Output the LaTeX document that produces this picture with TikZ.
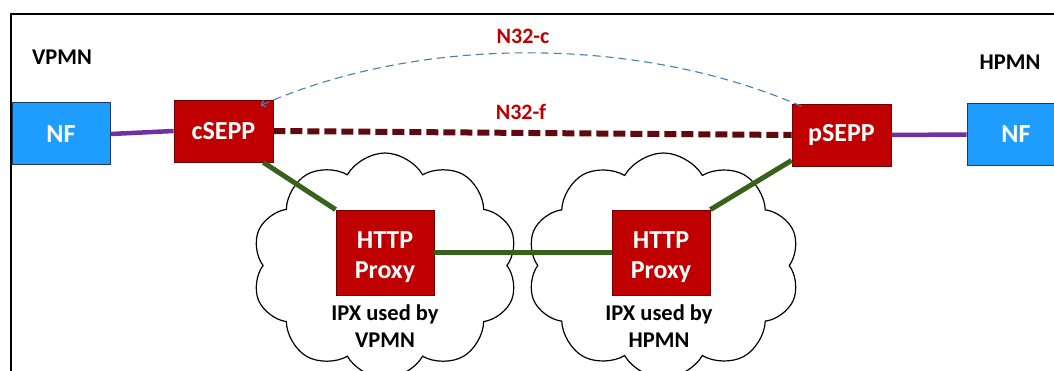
\documentclass[tikz,border=0pt]{standalone}
\usepackage{fontspec}
\setmainfont{Carlito}
\usetikzlibrary{shapes.symbols,arrows.meta,calc}
\definecolor{boxred}{RGB}{192,0,0}
\definecolor{boxredline}{RGB}{110,0,0}
\definecolor{nfblue}{RGB}{31,157,255}
\definecolor{nfline}{RGB}{31,56,100}
\definecolor{purp}{RGB}{112,48,160}
\definecolor{grn}{RGB}{56,98,28}
\definecolor{maroonline}{RGB}{94,10,14}
\definecolor{steel}{RGB}{74,126,177}
\definecolor{lblred}{RGB}{192,0,0}
\begin{document}
\begin{tikzpicture}[x=1pt,y=-1pt,
  redbox/.style={draw=boxredline, line width=0.8pt, fill=boxred, text=white,
    font=\bfseries\fontsize{26}{30}\selectfont, minimum width=99pt,
    minimum height=62pt, inner sep=0pt, align=center},
  proxybox/.style={redbox, minimum width=98pt, minimum height=85pt},
  bluebox/.style={draw=nfline, line width=1pt, fill=nfblue, text=white,
    font=\bfseries\fontsize{26}{30}\selectfont, minimum width=98pt,
    minimum height=62pt, inner sep=0pt},
  cloudshape/.style={cloud, draw=black, line width=1.2pt, cloud puffs=10,
    cloud puff arc=120, cloud ignores aspect, minimum width=#1, minimum height=225pt},
  netlabel/.style={font=\bfseries\fontsize{22.5}{26}\selectfont, text=black, inner sep=0pt},
  ifacelabel/.style={font=\bfseries\fontsize{22}{26}\selectfont, text=lblred, inner sep=0pt},
  ipxlabel/.style={font=\bfseries\fontsize{22.5}{27}\selectfont, text=black, inner sep=0pt, align=center},
  purpline/.style={purp, line width=4.5pt},
  grnline/.style={grn, line width=5pt},
]
\useasboundingbox (0,0) rectangle (1054,371);
\clip (0,0) rectangle (1054,371);
\fill[white] (0,0) rectangle (1054,371);

% frame
\draw[line width=2pt] (11,420) -- (11,14) -- (1100,14);

% clouds
\node[cloudshape=266pt] (cloud1) at (385,265.5) {};
\node[cloudshape=273pt] (cloud2) at (663.5,265.5) {};

% labels
\node[netlabel] (vpmn) at (62,57) {VPMN};
\node[netlabel] (hpmn) at (1010,62) {HPMN};
\node[ifacelabel] (n32c) at (523,36) {N32-c};
\node[ifacelabel] (n32f) at (521,112) {N32-f};
\node[ipxlabel] (ipx1) at (385,326) {IPX used by\\VPMN};
\node[ipxlabel] (ipx2) at (659,326) {IPX used by\\HPMN};

% boxes
\node[bluebox] (nf1) at (61,134) {NF};
\node[bluebox] (nf2) at (1016,134.5) {NF};
\node[redbox] (csepp) at (223.5,131) {cSEPP};
\node[redbox] (psepp) at (841.5,135) {pSEPP};
\node[proxybox] (proxy1) at (385,252.5) {\rule{0pt}{27pt}HTTP\\Proxy};
\node[proxybox] (proxy2) at (661,252.5) {\rule{0pt}{27pt}HTTP\\Proxy};

% connectors
\draw[purpline] (nf1.east) -- (csepp.west);
\draw[purpline] (psepp.east) -- (nf2.west);
\draw[grnline] ($(csepp.south east)+(-10,0)$) -- (proxy1.north west);
\draw[grnline] (proxy1.east) -- (proxy2.west);
\draw[grnline] (proxy2.north east) -- ($(psepp.south west)+(0,-6)$);
\draw[maroonline, line width=6pt, dash pattern=on 12pt off 5pt] (csepp.east) -- (psepp.west);
\draw[steel, line width=1.1pt, dash pattern=on 8pt off 5pt, {Straight Barb[length=4pt,width=7pt]}-]
  ($(csepp.north east)+(-13,6)$) .. controls (420,35) and (640,35) .. ($(psepp.north west)+(13,4)$);
\end{tikzpicture}
\end{document}
